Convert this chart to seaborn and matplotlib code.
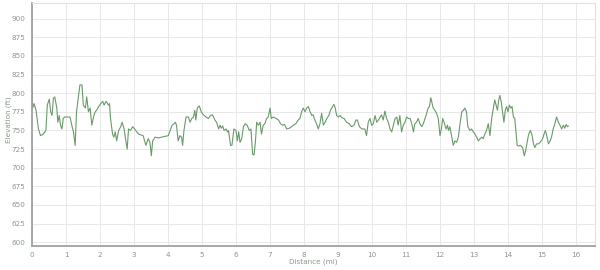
import matplotlib
matplotlib.use("Agg")
import matplotlib.pyplot as plt
import seaborn as sns
import pandas as pd

distance_mi = [
    0.0, 0.02, 0.06, 0.12, 0.19, 0.25, 0.33, 0.41, 0.45, 0.51, 0.55, 0.59, 0.63, 0.67, 0.73,
    0.76, 0.80, 0.84, 0.88, 0.92, 0.96, 1.0, 1.12, 1.17, 1.22, 1.27, 1.31, 1.36, 1.41, 1.47,
    1.51, 1.57, 1.61, 1.66, 1.71, 1.76, 1.82, 1.86, 1.90, 1.96, 2.02, 2.08, 2.12, 2.18, 2.25,
    2.28, 2.31, 2.37, 2.41, 2.45, 2.49, 2.55, 2.61, 2.65, 2.71, 2.75, 2.80, 2.84, 2.90, 2.96,
    3.02, 3.08, 3.14, 3.20, 3.27, 3.35, 3.42, 3.47, 3.51, 3.55, 3.62, 3.72, 3.81, 3.91, 4.01,
    4.08, 4.12, 4.18, 4.22, 4.25, 4.30, 4.35, 4.40, 4.43, 4.47, 4.53, 4.60, 4.65, 4.70, 4.75,
    4.79, 4.82, 4.86, 4.92, 4.98, 5.04, 5.12, 5.19, 5.25, 5.31, 5.38, 5.43, 5.49, 5.53, 5.57,
    5.61, 5.65, 5.71, 5.75, 5.78, 5.84, 5.88, 5.94, 6.00, 6.04, 6.08, 6.12, 6.17, 6.22, 6.27,
    6.33, 6.39, 6.44, 6.49, 6.53, 6.57, 6.61, 6.66, 6.71, 6.75, 6.80, 6.85, 6.90, 6.95, 7.00,
    7.04, 7.10, 7.18, 7.25, 7.31, 7.37, 7.43, 7.49, 7.57, 7.64, 7.71, 7.76, 7.83, 7.88, 7.93,
    7.98, 8.03, 8.08, 8.13, 8.18, 8.23, 8.27, 8.32, 8.37, 8.42, 8.47, 8.52, 8.57, 8.62, 8.67,
    8.73, 8.78, 8.84, 8.88, 8.92, 8.96, 9.01, 9.06, 9.12, 9.18, 9.25, 9.33, 9.40, 9.47, 9.53,
    9.57, 9.63, 9.70, 9.79, 9.84, 9.89, 9.94, 9.99, 10.04, 10.09, 10.14, 10.19, 10.24, 10.28,
    10.33, 10.38, 10.43, 10.48, 10.53, 10.58, 10.63, 10.68, 10.73, 10.77, 10.82, 10.87, 10.92,
    10.97, 11.02, 11.07, 11.12, 11.17, 11.22, 11.26, 11.31, 11.36, 11.41, 11.46, 11.51, 11.56,
    11.61, 11.65, 11.69, 11.73, 11.77, 11.80, 11.85, 11.90, 11.95, 12.00, 12.04, 12.08, 12.12,
    12.18, 12.22, 12.25, 12.29, 12.34, 12.39, 12.44, 12.49, 12.54, 12.59, 12.64, 12.69, 12.73,
    12.78, 12.82, 12.88, 12.93, 12.98, 13.03, 13.08, 13.13, 13.18, 13.23, 13.27, 13.32, 13.37,
    13.42, 13.47, 13.52, 13.57, 13.61, 13.65, 13.69, 13.73, 13.76, 13.80, 13.84, 13.88, 13.92,
    13.96, 14.00, 14.04, 14.08, 14.12, 14.16, 14.20, 14.24, 14.27, 14.31, 14.37, 14.43, 14.48,
    14.53, 14.57, 14.61, 14.66, 14.71, 14.75, 14.79, 14.84, 14.90, 14.96, 15.02, 15.06, 15.10,
    15.14, 15.19, 15.24, 15.28, 15.33, 15.38, 15.43, 15.48, 15.53, 15.58, 15.63, 15.67, 15.71,
    15.75, 15.78,
]

elevation_ft = [
    808, 780, 786, 777, 752, 743, 745, 750, 784, 792, 775, 770, 793, 795, 780,
    761, 770, 757, 752, 766, 768, 768, 768, 757, 748, 730, 775, 793, 811, 811,
    784, 780, 795, 775, 780, 757, 770, 775, 777, 782, 786, 789, 784, 789, 784,
    786, 766, 745, 741, 748, 736, 750, 755, 761, 752, 739, 725, 752, 750, 755,
    752, 748, 745, 744, 743, 730, 739, 734, 716, 736, 741, 740, 741, 742, 743,
    752, 757, 759, 761, 757, 736, 743, 741, 730, 750, 768, 768, 761, 766, 768,
    777, 764, 780, 783, 775, 771, 768, 766, 770, 771, 764, 761, 752, 757, 753,
    756, 750, 752, 748, 750, 730, 730, 752, 750, 736, 748, 734, 739, 755, 759,
    757, 750, 752, 718, 717, 734, 761, 757, 761, 745, 757, 759, 766, 768, 780,
    766, 768, 766, 764, 759, 757, 758, 752, 753, 755, 758, 759, 764, 766, 775,
    780, 775, 780, 782, 775, 770, 771, 764, 759, 752, 759, 773, 757, 761, 766,
    770, 777, 782, 785, 780, 770, 768, 770, 767, 766, 761, 759, 755, 757, 764,
    764, 755, 752, 752, 743, 761, 766, 757, 759, 770, 761, 764, 768, 771,
    764, 776, 766, 761, 752, 748, 757, 766, 768, 757, 770, 748, 757,
    761, 768, 766, 766, 759, 748, 759, 761, 766, 759, 755, 759, 766,
    773, 780, 782, 794, 786, 780, 777, 773, 766, 743, 752, 766, 761,
    752, 757, 750, 755, 743, 730, 736, 734, 741, 759, 775, 777, 780,
    775, 755, 750, 752, 748, 745, 741, 736, 739, 741, 739, 745, 750,
    759, 743, 766, 780, 791, 784, 777, 791, 797, 789, 775, 761, 777,
    782, 775, 784, 780, 782, 768, 766, 745, 730, 729, 730, 727, 716,
    725, 736, 745, 750, 743, 732, 727, 732, 732, 735, 739, 745, 750,
    743, 732, 736, 741, 752, 759, 768, 761, 757, 752, 757, 753, 758,
    755, 756,
]

x_ticks = list(range(0, 17))
y_ticks = list(range(600, 901, 25))

df = pd.DataFrame({"distance": distance_mi, "elevation": elevation_ft})

sns.set_style("white")
plt.rcParams["font.family"] = ["DejaVu Sans"]

fig = plt.figure(figsize=(6.0, 2.7), dpi=100)
ax = fig.add_axes([0.0533, 0.089, 0.9384, 0.9])

sns.lineplot(data=df, x="distance", y="elevation", ax=ax, color="#6a9a6a",
             linewidth=0.8, estimator=None, sort=False)

ax.set_xlim(0, 16.56)
ax.set_ylim(595, 921)
ax.set_xticks(x_ticks)
ax.set_yticks(y_ticks)
ax.grid(True, color="#e8e8e8", linewidth=0.7)
ax.set_axisbelow(True)

txt_col = "#8a9a8a"
ax.tick_params(axis="both", labelsize=5.2, colors="#9a9a9a", labelcolor=txt_col,
               length=3, width=0.6, pad=1.5)
ax.set_xlabel("Distance (mi)", fontsize=5.2, color=txt_col)
ax.set_ylabel("Elevation (ft)", fontsize=5.2, color=txt_col)
ax.xaxis.label.set_va("center")
ax.yaxis.label.set_va("center")
ax.xaxis.set_label_coords(0.5, -0.066)
ax.yaxis.set_label_coords(-0.041, 0.52)

for side in ["left", "bottom"]:
    ax.spines[side].set_color("#a0a0a0")
    ax.spines[side].set_linewidth(1.3)
for side in ["top", "right"]:
    ax.spines[side].set_color("#e0e0e0")
    ax.spines[side].set_linewidth(0.8)

fig.savefig("out.png", dpi=100)
